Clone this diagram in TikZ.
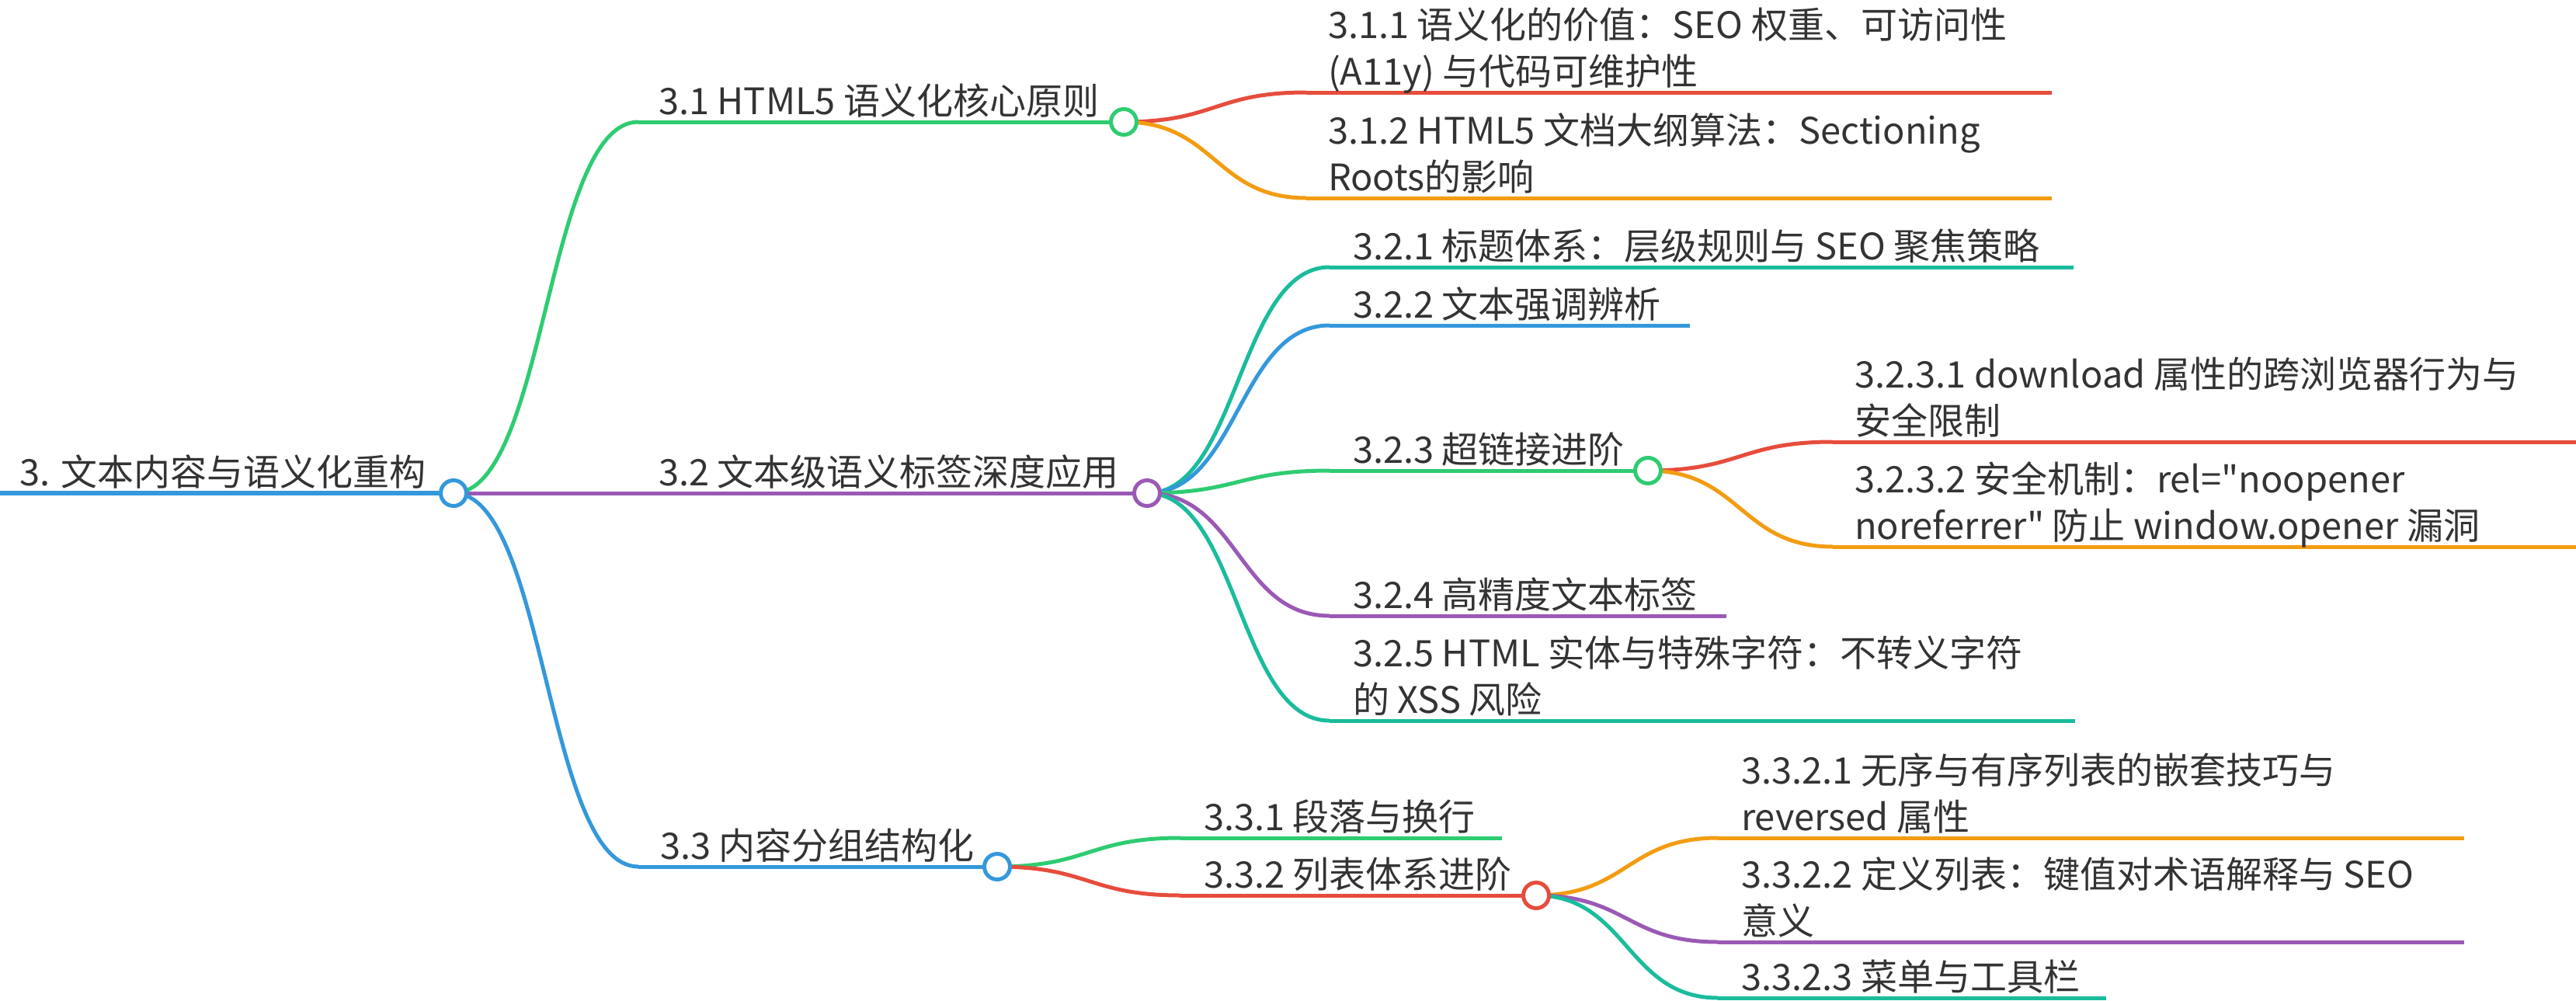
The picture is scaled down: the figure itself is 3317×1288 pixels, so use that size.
\documentclass[tikz,border=0pt]{standalone}
\usepackage{fontspec}
\setmainfont{Noto Sans CJK SC}[Ligatures=TeXOff]
\usetikzlibrary{calc}
\definecolor{cblue}{HTML}{3498DB}
\definecolor{cgreen}{HTML}{2ECC71}
\definecolor{cpurple}{HTML}{9B59B6}
\definecolor{cred}{HTML}{E74C3C}
\definecolor{corange}{HTML}{F39C12}
\definecolor{cteal}{HTML}{1ABC9C}
\definecolor{txt}{HTML}{333333}
\begin{document}
\begin{tikzpicture}[x=1pt,y=-1pt,
  lbl/.style={anchor=base west, inner sep=0pt, outer sep=0pt, align=left, text=txt, font=\fontsize{47}{60}\selectfont},
  uline/.style={line width=5pt},
  rootline/.style={line width=6pt},
  dot/.style={circle, draw=#1, fill=white, line width=5pt, minimum size=33pt, inner sep=0pt},
  link/.style={line width=5pt, to path={let \p1=(\tikztostart), \p2=(\tikztotarget) in .. controls ({(\x1+\x2)/2},\y1) and ({(\x1+\x2)/2},\y2) .. (\tikztotarget)}}
]
\useasboundingbox (0,0) rectangle (3317,1288);

% ---------- coordinates ----------
\coordinate (r-s) at (0,635);    \coordinate (r-c) at (584,635);
\coordinate (a-s) at (822,157);  \coordinate (a-c) at (1447,157);
\coordinate (b-s) at (822,635);  \coordinate (b-c) at (1477,635);
\coordinate (c-s) at (822,1116); \coordinate (c-c) at (1284,1116);

\coordinate (a1-s) at (1682,119); \coordinate (a1-e) at (2642,119);
\coordinate (a2-s) at (1682,255); \coordinate (a2-e) at (2642,255);

\coordinate (b1-s) at (1712,344); \coordinate (b1-e) at (2670,344);
\coordinate (b2-s) at (1712,419); \coordinate (b2-e) at (2176,419);
\coordinate (b3-s) at (1712,606); \coordinate (b3-c) at (2122,606);
\coordinate (b4-s) at (1712,793); \coordinate (b4-e) at (2223,793);
\coordinate (b5-s) at (1712,928); \coordinate (b5-e) at (2672,928);
\coordinate (b31-s) at (2360,569); \coordinate (b31-e) at (3317,569);
\coordinate (b32-s) at (2360,704); \coordinate (b32-e) at (3317,704);

\coordinate (c1-s) at (1520,1079); \coordinate (c1-e) at (1934,1079);
\coordinate (c2-s) at (1520,1153); \coordinate (c2-c) at (1978,1153);
\coordinate (c21-s) at (2212,1079); \coordinate (c21-e) at (3173,1079);
\coordinate (c22-s) at (2212,1213); \coordinate (c22-e) at (3173,1213);
\coordinate (c23-s) at (2212,1285); \coordinate (c23-e) at (2712,1285);

% ---------- underlines ----------
\draw[rootline, cblue] (r-s) -- (r-c);
\draw[uline, cgreen] (a-s) -- (a-c);
\draw[uline, cpurple] (b-s) -- (b-c);
\draw[uline, cblue] (c-s) -- (c-c);
\draw[uline, cred] (a1-s) -- (a1-e);
\draw[uline, corange] (a2-s) -- (a2-e);
\draw[uline, cteal] (b1-s) -- (b1-e);
\draw[uline, cblue] (b2-s) -- (b2-e);
\draw[uline, cgreen] (b3-s) -- (b3-c);
\draw[uline, cpurple] (b4-s) -- (b4-e);
\draw[uline, cteal] (b5-s) -- (b5-e);
\draw[uline, cred] (b31-s) -- (b31-e);
\draw[uline, corange] (b32-s) -- (b32-e);
\draw[uline, cgreen] (c1-s) -- (c1-e);
\draw[uline, cred] (c2-s) -- (c2-c);
\draw[uline, corange] (c21-s) -- (c21-e);
\draw[uline, cpurple] (c22-s) -- (c22-e);
\draw[uline, cteal] (c23-s) -- (c23-e);

% ---------- links ----------
\draw[link, cgreen] (r-c) to (a-s);
\draw[link, cpurple] (r-c) to (b-s);
\draw[link, cblue] (r-c) to (c-s);
\draw[link, cred] (a-c) to (a1-s);
\draw[link, corange] (a-c) to (a2-s);
\draw[link, cteal] (b-c) to (b1-s);
\draw[link, cblue] (b-c) to (b2-s);
\draw[link, cgreen] (b-c) to (b3-s);
\draw[link, cpurple] (b-c) to (b4-s);
\draw[link, cteal] (b-c) to (b5-s);
\draw[link, cred] (b3-c) to (b31-s);
\draw[link, corange] (b3-c) to (b32-s);
\draw[link, cgreen] (c-c) to (c1-s);
\draw[link, cred] (c-c) to (c2-s);
\draw[link, corange] (c2-c) to (c21-s);
\draw[link, cpurple] (c2-c) to (c22-s);
\draw[link, cteal] (c2-c) to (c23-s);

% ---------- circles ----------
\node[dot=cblue] (r-dot) at (r-c) {};
\node[dot=cgreen] (a-dot) at (a-c) {};
\node[dot=cpurple] (b-dot) at (b-c) {};
\node[dot=cblue] (c-dot) at (c-c) {};
\node[dot=cgreen] (b3-dot) at (b3-c) {};
\node[dot=cred] (c2-dot) at (c2-c) {};

% ---------- texts ----------
\node[lbl] (r-t) at (25,625) {3. 文本内容与语义化重构};
\node[lbl] (a-t) at (848,147) {3.1 HTML5 语义化核心原则};
\node[lbl] (b-t) at (848,625) {3.2 文本级语义标签深度应用};
\node[lbl] (c-t) at (850,1106) {3.3 内容分组结构化};

\node[lbl] (a1-t) at (1710,109) {3.1.1 语义化的价值：SEO 权重、可访问性\\(A11y) 与代码可维护性};
\node[lbl] (a2-t) at (1710,245) {3.1.2 HTML5 文档大纲算法：Sectioning\\Roots的影响};

\node[lbl] (b1-t) at (1742,334) {3.2.1 标题体系：层级规则与 SEO 聚焦策略};
\node[lbl] (b2-t) at (1742,409) {3.2.2 文本强调辨析};
\node[lbl] (b3-t) at (1742,596) {3.2.3 超链接进阶};
\node[lbl] (b4-t) at (1742,783) {3.2.4 高精度文本标签};
\node[lbl] (b5-t) at (1742,918) {3.2.5 HTML 实体与特殊字符：不转义字符\\的 XSS 风险};
\node[lbl] (b31-t) at (2388,559) {3.2.3.1 download 属性的跨浏览器行为与\\安全限制};
\node[lbl] (b32-t) at (2388,694) {3.2.3.2 安全机制：rel="noopener\\noreferrer" 防止 window.opener 漏洞};

\node[lbl] (c1-t) at (1550,1069) {3.3.1 段落与换行};
\node[lbl] (c2-t) at (1550,1143) {3.3.2 列表体系进阶};
\node[lbl] (c21-t) at (2242,1069) {3.3.2.1 无序与有序列表的嵌套技巧与\\reversed 属性};
\node[lbl] (c22-t) at (2242,1203) {3.3.2.2 定义列表：键值对术语解释与 SEO\\意义};
\node[lbl] (c23-t) at (2242,1275) {3.3.2.3 菜单与工具栏};
\end{tikzpicture}
\end{document}
